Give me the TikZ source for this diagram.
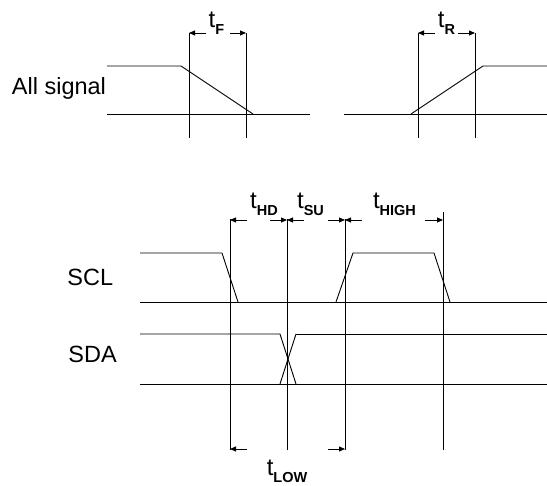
\documentclass[tikz,border=0pt]{standalone}
\usepackage{fontspec}
\setmainfont{Liberation Sans}
\usetikzlibrary{arrows.meta}
\newcommand{\tsub}[1]{t\raisebox{-7pt}{\fontsize{14.5}{16}\selectfont\bfseries #1}}
\begin{document}
\begin{tikzpicture}[x=1pt,y=-1pt,line width=0.9pt,
  dimarrow/.style={-{Triangle[length=6pt,width=5pt]}},
  sig/.style={font=\fontsize{23.5}{28}\selectfont,inner sep=0pt,anchor=base west},
  tlabel/.style={font=\fontsize{24}{28}\selectfont,inner sep=0pt,anchor=base}]
\useasboundingbox (0,0) rectangle (547,486);

% ---------- top: all signal ----------
\node[sig] (all) at (11.5,95) {All signal};
\draw (107,66) -- (181,66) -- (253,114);
\draw (107,114) -- (310,114);
\draw (344,114) -- (547,114);
\draw (411,114) -- (483,66) -- (547,66);

\foreach \n/\x in {f1/189,f2/246,r1/418,r2/475}{
  \coordinate (\n t) at (\x,33);
  \coordinate (\n b) at (\x,138);
  \draw (\n t) -- (\n b);
}
\coordinate (fa) at (206,33); \coordinate (fb) at (230,33);
\coordinate (ra) at (435,33); \coordinate (rb) at (458,33);
\draw[dimarrow] (fa) -- (f1t);
\draw[dimarrow] (fb) -- (f2t);
\draw[dimarrow] (ra) -- (r1t);
\draw[dimarrow] (rb) -- (r2t);
\node[tlabel] (tf) at (216.5,28) {\tsub{F}};
\node[tlabel] (tr) at (446.5,28) {\tsub{R}};

% ---------- bottom: SCL / SDA ----------
\node[sig] (scl) at (67,286) {SCL};
\node[sig] (sda) at (68,363) {SDA};

\draw (140,253) -- (222,253) -- (238,302);
\draw (140,302) -- (547,302);
\draw (336,302) -- (353,253) -- (434,253) -- (450,302);

\draw (140,334) -- (280,334) -- (296,384);
\draw (296,334) -- (547,334);
\draw (296,334) -- (280,384);
\draw (140,384) -- (547,384);

\foreach \n/\x/\y in {v1/230/219,v2/287/219,v3/345/219,v4/443/212}{
  \coordinate (\n t) at (\x,\y);
  \coordinate (\n b) at (\x,450);
  \draw (\n t) -- (\n b);
}
\coordinate (v1a) at (230,220); \coordinate (v2a) at (287,220);
\coordinate (v3a) at (345,220); \coordinate (v4a) at (443,220);
\coordinate (v1c) at (230,449); \coordinate (v3c) at (345,449);

\draw[dimarrow] (247,220) -- (v1a);
\draw[dimarrow] (270,220) -- (v2a);
\draw[dimarrow] (304,220) -- (v2a);
\draw[dimarrow] (328,220) -- (v3a);
\draw[dimarrow] (362,220) -- (v3a);
\draw[dimarrow] (425,220) -- (v4a);
\draw[dimarrow] (247,449) -- (v1c);
\draw[dimarrow] (328,449) -- (v3c);

\node[tlabel] (thd) at (264,209) {\tsub{HD}};
\node[tlabel] (tsu) at (310.5,209) {\tsub{SU}};
\node[tlabel] (thigh) at (394.5,209) {\tsub{HIGH}};
\node[tlabel] (tlow) at (287,475.5) {\tsub{LOW}};
\end{tikzpicture}
\end{document}
